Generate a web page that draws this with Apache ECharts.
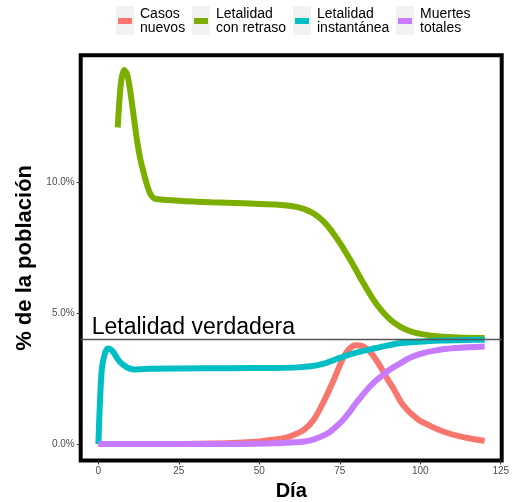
<!DOCTYPE html>
<html>
<head>
<meta charset="utf-8">
<script src="https://cdn.jsdelivr.net/npm/echarts@6/dist/echarts.min.js"></script>
<style>
html,body{margin:0;padding:0;background:#fff;}
#c{width:525px;height:502px;}
</style>
</head>
<body>
<div id="c"></div>
<script>
// ---- data ----
const seriesNames = ['Casos nuevos', 'Letalidad con retraso', 'Letalidad instantánea', 'Muertes totales'];
const legendLabels = ['Casos\nnuevos', 'Letalidad\ncon retraso', 'Letalidad\ninstantánea', 'Muertes\ntotales'];
const xTicks = [0, 25, 50, 75, 100, 125];
const yTicks = [0, 5, 10];
const trueLethality = 4;

const casosDays = [0, 20, 35, 45, 50, 54, 58, 61, 64, 67, 70, 73, 76, 78, 80, 82, 84, 86, 88, 90, 92, 94, 96, 98, 100, 102, 105, 108, 112, 116, 120];
const casosVals = [0, 0, 0.02, 0.06, 0.1, 0.16, 0.23, 0.36, 0.56, 0.95, 1.62, 2.42, 3.28, 3.65, 3.78, 3.75, 3.58, 3.27, 2.88, 2.45, 2.05, 1.6, 1.3, 1.07, 0.88, 0.76, 0.58, 0.44, 0.3, 0.2, 0.12];

const retrasoDays = [6, 7, 8, 9, 10, 11, 12, 13, 14, 15, 16, 17, 18, 25, 35, 45, 55, 60, 64, 67, 70, 73, 76, 79, 82, 85, 88, 91, 94, 97, 101, 106, 112, 120];
const retrasoVals = [12.1, 13.8, 14.3, 14.1, 13.4, 12.5, 11.6, 10.9, 10.4, 9.95, 9.6, 9.42, 9.37, 9.3, 9.24, 9.2, 9.16, 9.1, 8.98, 8.8, 8.5, 8.05, 7.5, 6.88, 6.22, 5.6, 5.1, 4.72, 4.47, 4.31, 4.19, 4.11, 4.07, 4.05];

const instDays = [0, 1, 2, 3, 4, 5, 6, 7, 8, 9, 10, 11, 13, 16, 25, 40, 55, 62, 66, 70, 74, 78, 82, 86, 90, 94, 98, 103, 108, 114, 120];
const instVals = [0, 2.8, 3.45, 3.65, 3.6, 3.45, 3.25, 3.1, 3.0, 2.92, 2.87, 2.85, 2.86, 2.88, 2.89, 2.9, 2.91, 2.93, 2.97, 3.07, 3.25, 3.42, 3.55, 3.66, 3.77, 3.86, 3.9, 3.94, 3.96, 3.98, 3.99];

const muertesDays = [0, 40, 55, 60, 64, 67, 70, 72, 74, 76, 78, 80, 82, 84, 86, 88, 90, 92, 94, 96, 98, 101, 104, 107, 111, 115, 120];
const muertesVals = [0, 0, 0.03, 0.06, 0.1, 0.18, 0.33, 0.47, 0.68, 0.92, 1.22, 1.56, 1.86, 2.15, 2.4, 2.6, 2.8, 2.96, 3.1, 3.25, 3.36, 3.48, 3.56, 3.62, 3.67, 3.7, 3.73];

const colors = ['#F8766D', '#7CAE00', '#00BFC4', '#C77CFF'];

function pairs(d, v) { return d.map((x, i) => [x, v[i]]); }
const seriesData = [
  pairs(casosDays, casosVals),
  pairs(retrasoDays, retrasoVals),
  pairs(instDays, instVals),
  pairs(muertesDays, muertesVals)
];

const FONT = '"Liberation Sans", Arial, Helvetica, sans-serif';
const legendLeft = [118, 194, 295, 398];
const keyBoxLeft = [116, 192, 293, 396];

const chart = echarts.init(document.getElementById('c'), null, { renderer: 'canvas' });

const series = seriesNames.map((name, i) => {
  const s = {
    name: name,
    type: 'line',
    data: seriesData[i],
    showSymbol: false,
    symbol: 'none',
    smooth: 0.3,
    lineStyle: { color: colors[i], width: 6, cap: 'butt' },
    itemStyle: { color: colors[i] },
    z: 2 + i,
    animation: false
  };
  if (i === 0) {
    s.markLine = {
      silent: true,
      symbol: ['none', 'none'],
      lineStyle: { color: '#555', width: 1.3, type: 'solid' },
      label: {
        show: true,
        position: 'insideStartTop',
        formatter: 'Letalidad verdadera',
        color: '#000',
        fontSize: 23,
        fontFamily: FONT,
        distance: [11, 0]
      },
      data: [{ yAxis: trueLethality }],
      animation: false
    };
  }
  return s;
});

const legends = seriesNames.map((name, i) => ({
  data: [{ name: name, icon: 'rect' }],
  left: legendLeft[i],
  top: 7,
  padding: 0,
  itemWidth: 14,
  itemHeight: 6,
  formatter: () => legendLabels[i],
  selectedMode: false,
  textStyle: { fontSize: 14, lineHeight: 14, color: '#000', fontFamily: FONT, padding: [0, 0, 0, 3] }
}));

const graphics = keyBoxLeft.map(x => ({
  type: 'rect',
  shape: { x: x, y: 6, width: 18, height: 29 },
  style: { fill: '#f2f2f2' },
  z: -1,
  silent: true
}));

chart.setOption({
  animation: false,
  backgroundColor: '#fff',
  color: colors,
  grid: {
    left: 80.7, right: 23.3, top: 55.3, bottom: 41.5,
    outerBoundsMode: 'none',
    containLabel: false,
    show: true, borderColor: '#000', borderWidth: 4, backgroundColor: '#fff'
  },
  legend: legends,
  graphic: graphics,
  xAxis: {
    type: 'value',
    min: -5.5, max: 125.3,
    name: 'Día',
    nameLocation: 'middle',
    nameGap: 18,
    nameTextStyle: { fontSize: 20, fontWeight: 'bold', color: '#000', fontFamily: FONT },
    axisLine: { show: false, onZero: false },
    splitLine: { show: false },
    axisTick: { show: true, length: 4, lineStyle: { color: '#333' }, customValues: xTicks },
    axisLabel: { fontSize: 10, color: '#4d4d4d', fontFamily: FONT, margin: 6, customValues: xTicks }
  },
  yAxis: {
    type: 'value',
    min: -0.63, max: 14.86,
    name: '% de la población',
    nameLocation: 'middle',
    nameGap: 36,
    nameTextStyle: { fontSize: 22, fontWeight: 'bold', color: '#000', fontFamily: FONT },
    axisLine: { show: false, onZero: false },
    splitLine: { show: false },
    axisTick: { show: true, length: 4, lineStyle: { color: '#333' }, customValues: yTicks },
    axisLabel: { fontSize: 10, color: '#4d4d4d', fontFamily: FONT, margin: 6, customValues: yTicks,
      formatter: v => v.toFixed(1) + '%' }
  },
  series: series
});
</script>
</body>
</html>
